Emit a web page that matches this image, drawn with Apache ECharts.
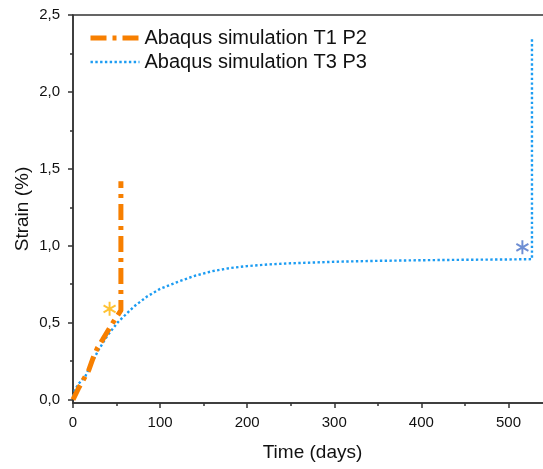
<!DOCTYPE html>
<html><head><meta charset="utf-8">
<script src="https://cdn.jsdelivr.net/npm/echarts@6/dist/echarts.min.js"></script>
<style>html,body{margin:0;padding:0;background:#fff}#c{width:543px;height:469px}</style>
</head><body><div id="c"></div>
<script>
// Data
const seriesNames = ['Abaqus simulation T1 P2', 'Abaqus simulation T3 P3'];
const t1p2 = [[0,0],[6,0.07],[12,0.13],[18,0.19],[23,0.27],[28,0.335],[34,0.39],[42,0.465],[48,0.52],[55,0.58],[55,1.42]];
const t3p3 = [[0,0.02],[2,0.06],[6,0.1],[14,0.15],[20,0.22],[29,0.32],[40,0.42],[52,0.506],[60,0.55],[70,0.605],[85,0.67],[100,0.72],[121,0.767],[140,0.805],[160,0.835],[180,0.855],[200,0.868],[225,0.879],[250,0.886],[300,0.896],[350,0.902],[400,0.906],[450,0.909],[500,0.911],[527,0.913],[527,2.35]];
const markerT1 = [[42,0.59]];
const markerT3 = [[516,0.99]];
const yTicks = [0, 0.5, 1.0, 1.5, 2.0, 2.5];
const yMinorTicks = [0.25, 0.75, 1.25, 1.75, 2.25];

const star = 'path://M-1.4,-10L1.4,-10L1.4,10L-1.4,10Z M7.96,-6.21L9.36,-3.79L-7.96,6.21L-9.36,3.79Z M-9.36,-3.79L-7.96,-6.21L9.36,3.79L7.96,6.21Z';
const font = 'Liberation Sans';
const axisColor = '#333';
const txt = '#111';
const orange = '#f77f00', blue = '#1c9cf2';
const orangeDash = [16, 6, 4, 6], blueDot = [2.4, 2.4];
const yMin = -0.022;

const chart = echarts.init(document.getElementById('c'));
chart.setOption({
  animation: false,
  backgroundColor: '#fff',
  textStyle: {fontFamily: font},
  grid: {left: 73, top: 15, bottom: 66, right: -9, outerBoundsMode: 'none', containLabel: false,
         show: true, borderColor: axisColor, borderWidth: 1.5, backgroundColor: 'transparent'},
  legend: {
    left: 88, top: 28, padding: 0, orient: 'vertical', itemGap: 4, itemWidth: 49, itemHeight: 20,
    data: [
      {name: seriesNames[0], lineStyle: {color: orange, width: 5, type: orangeDash}},
      {name: seriesNames[1], lineStyle: {color: blue, width: 2.4, type: blueDot}}
    ],
    itemStyle: {color: 'rgba(0,0,0,0)', borderWidth: 0, opacity: 0},
    textStyle: {fontFamily: font, fontSize: 20, color: txt},
  },
  xAxis: {
    type: 'value', min: 0, max: 550, interval: 100,
    name: 'Time (days)', nameLocation: 'middle', nameGap: 40,
    nameTextStyle: {fontFamily: font, fontSize: 19, color: txt},
    axisLine: {show: true, onZero: false, lineStyle: {color: axisColor, width: 1.5}},
    axisTick: {show: true, inside: false, length: 5, lineStyle: {color: axisColor, width: 1.5}},
    minorTick: {show: true, splitNumber: 2, length: 3, lineStyle: {color: axisColor, width: 1.5}},
    axisLabel: {fontFamily: font, fontSize: 15, color: txt, margin: 12, showMaxLabel: false},
    splitLine: {show: false}
  },
  yAxis: [{
    type: 'value', min: yMin, max: 2.5,
    name: 'Strain (%)', nameLocation: 'middle', nameGap: 41, nameMoveOverlap: false,
    nameTextStyle: {fontFamily: font, fontSize: 19, color: txt},
    axisLine: {show: true, onZero: false, lineStyle: {color: axisColor, width: 1.5}},
    axisTick: {show: true, inside: false, length: 5, customValues: yTicks, lineStyle: {color: axisColor, width: 1.5}},
    axisLabel: {fontFamily: font, fontSize: 15, color: txt, margin: 13, customValues: yTicks,
      formatter: v => v.toFixed(1).replace('.', ',')},
    splitLine: {show: false}
  }, {
    type: 'value', min: yMin, max: 2.5, position: 'left',
    axisLine: {show: false, onZero: false},
    axisTick: {show: true, inside: false, length: 3, customValues: yMinorTicks, lineStyle: {color: axisColor, width: 1.5}},
    axisLabel: {show: false, customValues: yMinorTicks},
    splitLine: {show: false}
  }],
  series: [
    {name: seriesNames[0], type: 'line', data: t1p2, showSymbol: false, symbol: 'none', z: 3,
     lineStyle: {color: orange, width: 5, type: orangeDash}, itemStyle: {color: orange}},
    {name: seriesNames[1], type: 'line', data: t3p3, showSymbol: false, symbol: 'none', z: 2,
     lineStyle: {color: blue, width: 2.4, type: blueDot}, itemStyle: {color: blue}},
    {type: 'scatter', data: markerT1, symbol: star, symbolSize: [13,14], itemStyle: {color: '#ffb300'}, z: 4},
    {type: 'scatter', data: markerT3, symbol: star, symbolSize: [13,14], itemStyle: {color: '#4a72c8'}, z: 4}
  ]
});
</script></body></html>
